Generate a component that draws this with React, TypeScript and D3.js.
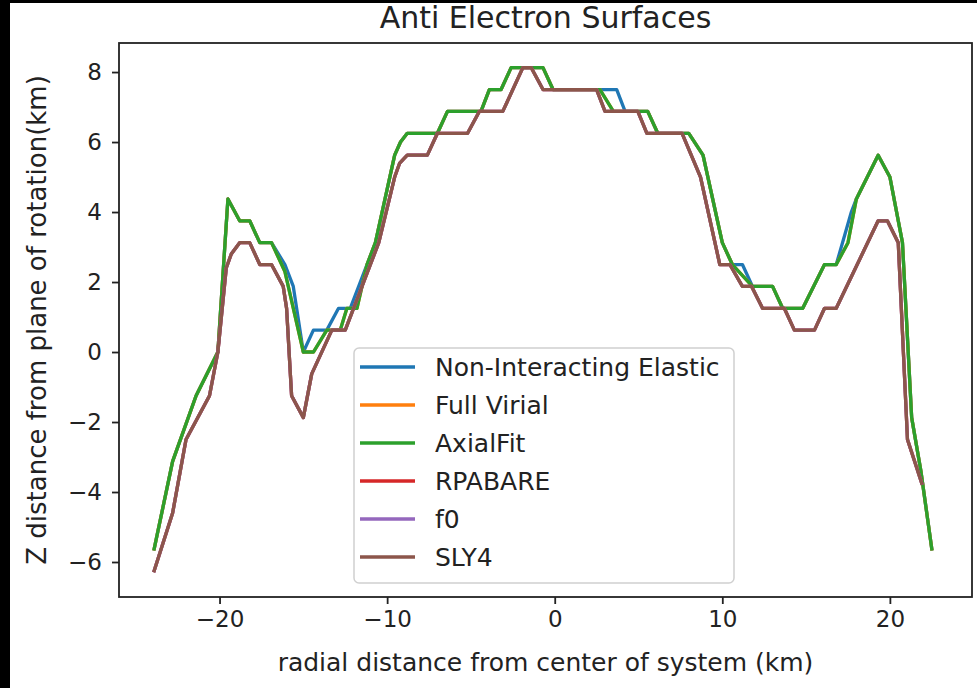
import { useEffect, useRef } from "react";
import * as d3 from "d3";

// Series (x = radial distance km, z = height km)
const elasticX = [-23.9, -22.8, -21.4, -20.1, -19.5, -18.8, -18.2, -17.6, -16.9, -16.1, -15.6, -15.0, -14.4, -13.6, -12.9, -12.2, -11.2, -10.7, -9.55, -9.2, -8.8, -7.0, -6.4, -4.4, -3.9, -3.2, -2.6, -0.7, -0.1, 3.7, 4.2, 5.55, 6.15, 8.0, 8.85, 10.0, 10.6, 11.2, 11.8, 13.0, 13.6, 14.8, 16.1, 16.8, 17.7, 18.0, 19.3, 20.0, 20.5, 20.75, 21.3, 21.85, 22.5];
const elasticZ = [-5.625, -3.125, -1.25, 0, 4.375, 3.75, 3.75, 3.125, 3.125, 2.5, 1.875, 0, 0.625, 0.625, 1.25, 1.25, 2.5, 3.125, 5.625, 6.0, 6.25, 6.25, 6.875, 6.875, 7.5, 7.5, 8.125, 8.125, 7.5, 7.5, 6.875, 6.875, 6.25, 6.25, 5.625, 3.125, 2.5, 2.5, 1.875, 1.875, 1.25, 1.25, 2.5, 2.5, 4.0, 4.375, 5.625, 5.0, 3.75, 3.125, -1.875, -3.4, -5.625];

const axialX = [-23.9, -22.8, -21.4, -20.1, -19.5, -18.8, -18.2, -17.6, -16.9, -16.1, -15.0, -14.4, -13.6, -12.8, -12.4, -11.8, -11.2, -10.7, -9.55, -9.2, -8.8, -7.0, -6.4, -4.4, -3.9, -3.2, -2.6, -0.7, -0.1, 2.7, 3.5, 5.55, 6.15, 8.0, 8.85, 10.0, 10.6, 11.8, 13.0, 13.6, 14.8, 16.1, 16.8, 17.5, 18.0, 19.3, 20.0, 20.5, 20.75, 21.3, 21.85, 22.5];
const axialZ = [-5.625, -3.125, -1.25, 0, 4.375, 3.75, 3.75, 3.125, 3.125, 2.3, 0, 0, 0.625, 0.625, 1.25, 1.25, 2.5, 3.125, 5.625, 6.0, 6.25, 6.25, 6.875, 6.875, 7.5, 7.5, 8.125, 8.125, 7.5, 7.5, 6.875, 6.875, 6.25, 6.25, 5.625, 3.125, 2.5, 1.875, 1.875, 1.25, 1.25, 2.5, 2.5, 3.125, 4.375, 5.625, 5.0, 3.75, 3.125, -1.875, -3.4, -5.625];

const sly4X = [-23.9, -22.8, -22.0, -20.6, -20.1, -19.6, -19.3, -18.8, -18.2, -17.6, -16.9, -16.2, -16.0, -15.7, -15.0, -14.5, -13.3, -12.5, -11.5, -10.5, -9.55, -9.25, -8.8, -7.6, -7.0, -5.2, -4.5, -3.1, -1.9, -1.4, -0.7, 2.5, 3.0, 4.96, 5.5, 7.6, 8.7, 9.85, 10.45, 11.2, 11.75, 12.4, 13.7, 14.3, 15.5, 16.1, 16.8, 19.3, 19.85, 20.5, 21.05, 21.9];
const sly4Z = [-6.25, -4.6, -2.5, -1.25, 0, 2.4, 2.8, 3.125, 3.125, 2.5, 2.5, 1.875, 1.25, -1.25, -1.875, -0.625, 0.625, 0.625, 1.875, 3.125, 5.0, 5.4, 5.625, 5.625, 6.25, 6.25, 6.875, 6.875, 8.125, 8.125, 7.5, 7.5, 6.875, 6.875, 6.25, 6.25, 5.0, 2.5, 2.5, 1.875, 1.875, 1.25, 1.25, 0.625, 0.625, 1.25, 1.25, 3.75, 3.75, 3.125, -2.5, -3.75];

const seriesNames = ["Non-Interacting Elastic", "Full Virial", "AxialFit", "RPABARE", "f0", "SLY4"];
const seriesX = [elasticX, axialX, axialX, sly4X, sly4X, sly4X];
const seriesZ = [elasticZ, axialZ, axialZ, sly4Z, sly4Z, sly4Z];
const seriesColors = ["#1f77b4", "#ff7f0e", "#2ca02c", "#d62728", "#9467bd", "#8c564b"];

const xTicks = [-20, -10, 0, 10, 20];
const yTicks = [-6, -4, -2, 0, 2, 4, 6, 8];

const App = () => {
  const svgRef = useRef<SVGSVGElement | null>(null);

  useEffect(() => {
    document.body.style.margin = "0";
    const width = 977;
    const height = 688;
    const margin = { top: 43, right: 5, bottom: 91, left: 119 };
    const ink = "#222";
    const font = "'DejaVu Sans', sans-serif";

    const svg = d3.select(svgRef.current).attr("width", width).attr("height", height);
    svg.selectAll("*").remove();

    svg.append("rect").attr("width", width).attr("height", height).attr("fill", "#fff");
    // black strips of the screenshot edge
    svg.append("rect").attr("width", 10).attr("height", height).attr("fill", "#000");
    svg.append("rect").attr("width", width).attr("height", 3).attr("fill", "#000");

    const x = d3.scaleLinear().domain([-26.0, 24.9]).range([margin.left, width - margin.right]);
    const y = d3.scaleLinear().domain([-7.0, 8.83]).range([height - margin.bottom, margin.top]);

    // Lines
    const line = d3
      .line<[number, number]>()
      .x((d) => x(d[0]))
      .y((d) => y(d[1]));

    seriesNames.forEach((_, i) => {
      const pts = seriesX[i].map((v, j) => [v, seriesZ[i][j]] as [number, number]);
      svg
        .append("path")
        .datum(pts)
        .attr("fill", "none")
        .attr("stroke", seriesColors[i])
        .attr("stroke-width", 3.3)
        .attr("stroke-linejoin", "round")
        .attr("stroke-linecap", "square")
        .attr("d", line);
    });

    // Axes
    const xAxis = svg
      .append("g")
      .attr("transform", `translate(0,${height - margin.bottom})`)
      .call(d3.axisBottom(x).tickValues(xTicks).tickSize(7).tickPadding(7).tickFormat((d: any) => d3.format("")(d).replace("-", "\u2212")));
    const yAxis = svg
      .append("g")
      .attr("transform", `translate(${margin.left},0)`)
      .call(d3.axisLeft(y).tickValues(yTicks).tickSize(7).tickPadding(10).tickFormat((d: any) => d3.format("")(d).replace("-", "\u2212")));

    [xAxis, yAxis].forEach((g) => {
      g.select(".domain").remove();
      g.selectAll(".tick line").attr("stroke", ink).attr("stroke-width", 1.8);
      g.selectAll(".tick text").attr("fill", ink).style("font-family", font).style("font-size", "23px");
    });

    // Frame
    svg
      .append("rect")
      .attr("x", margin.left)
      .attr("y", margin.top)
      .attr("width", width - margin.right - margin.left)
      .attr("height", height - margin.bottom - margin.top)
      .attr("fill", "none")
      .attr("stroke", ink)
      .attr("stroke-width", 1.8);

    // Titles
    svg
      .append("text")
      .attr("x", (margin.left + width - margin.right) / 2)
      .attr("y", 28)
      .attr("text-anchor", "middle")
      .attr("fill", ink)
      .style("font-family", font)
      .style("font-size", "30px")
      .text("Anti Electron Surfaces");

    svg
      .append("text")
      .attr("x", (margin.left + width - margin.right) / 2)
      .attr("y", 671)
      .attr("text-anchor", "middle")
      .attr("fill", ink)
      .style("font-family", font)
      .style("font-size", "25px")
      .text("radial distance from center of system (km)");

    svg
      .append("text")
      .attr("transform", `translate(46,${(margin.top + height - margin.bottom) / 2}) rotate(-90)`)
      .attr("text-anchor", "middle")
      .attr("fill", ink)
      .style("font-family", font)
      .style("font-size", "26px")
      .text("Z distance from plane of rotation(km)");

    // Legend
    const legend = svg.append("g").attr("transform", "translate(354,348)");
    legend
      .append("rect")
      .attr("width", 380)
      .attr("height", 235)
      .attr("rx", 5)
      .attr("fill", "rgba(255,255,255,0.8)")
      .attr("stroke", "#d0d0d0")
      .attr("stroke-width", 1.5);

    const item = legend
      .selectAll("g.item")
      .data(seriesNames)
      .join("g")
      .attr("class", "item")
      .attr("transform", (_: any, i: number) => `translate(0,${19 + i * 38})`);

    item
      .append("line")
      .attr("x1", 6)
      .attr("x2", 61)
      .attr("stroke", (_: any, i: number) => seriesColors[i])
      .attr("stroke-width", 3.3);
    item
      .append("text")
      .attr("x", 81)
      .attr("dy", "0.36em")
      .attr("fill", ink)
      .style("font-family", font)
      .style("font-size", "25px")
      .text((d) => d);
  }, []);

  return (
    <div style={{ position: "absolute", left: 0, top: 0 }}>
      <svg ref={svgRef} style={{ display: "block" }} />
    </div>
  );
};

export default App;
